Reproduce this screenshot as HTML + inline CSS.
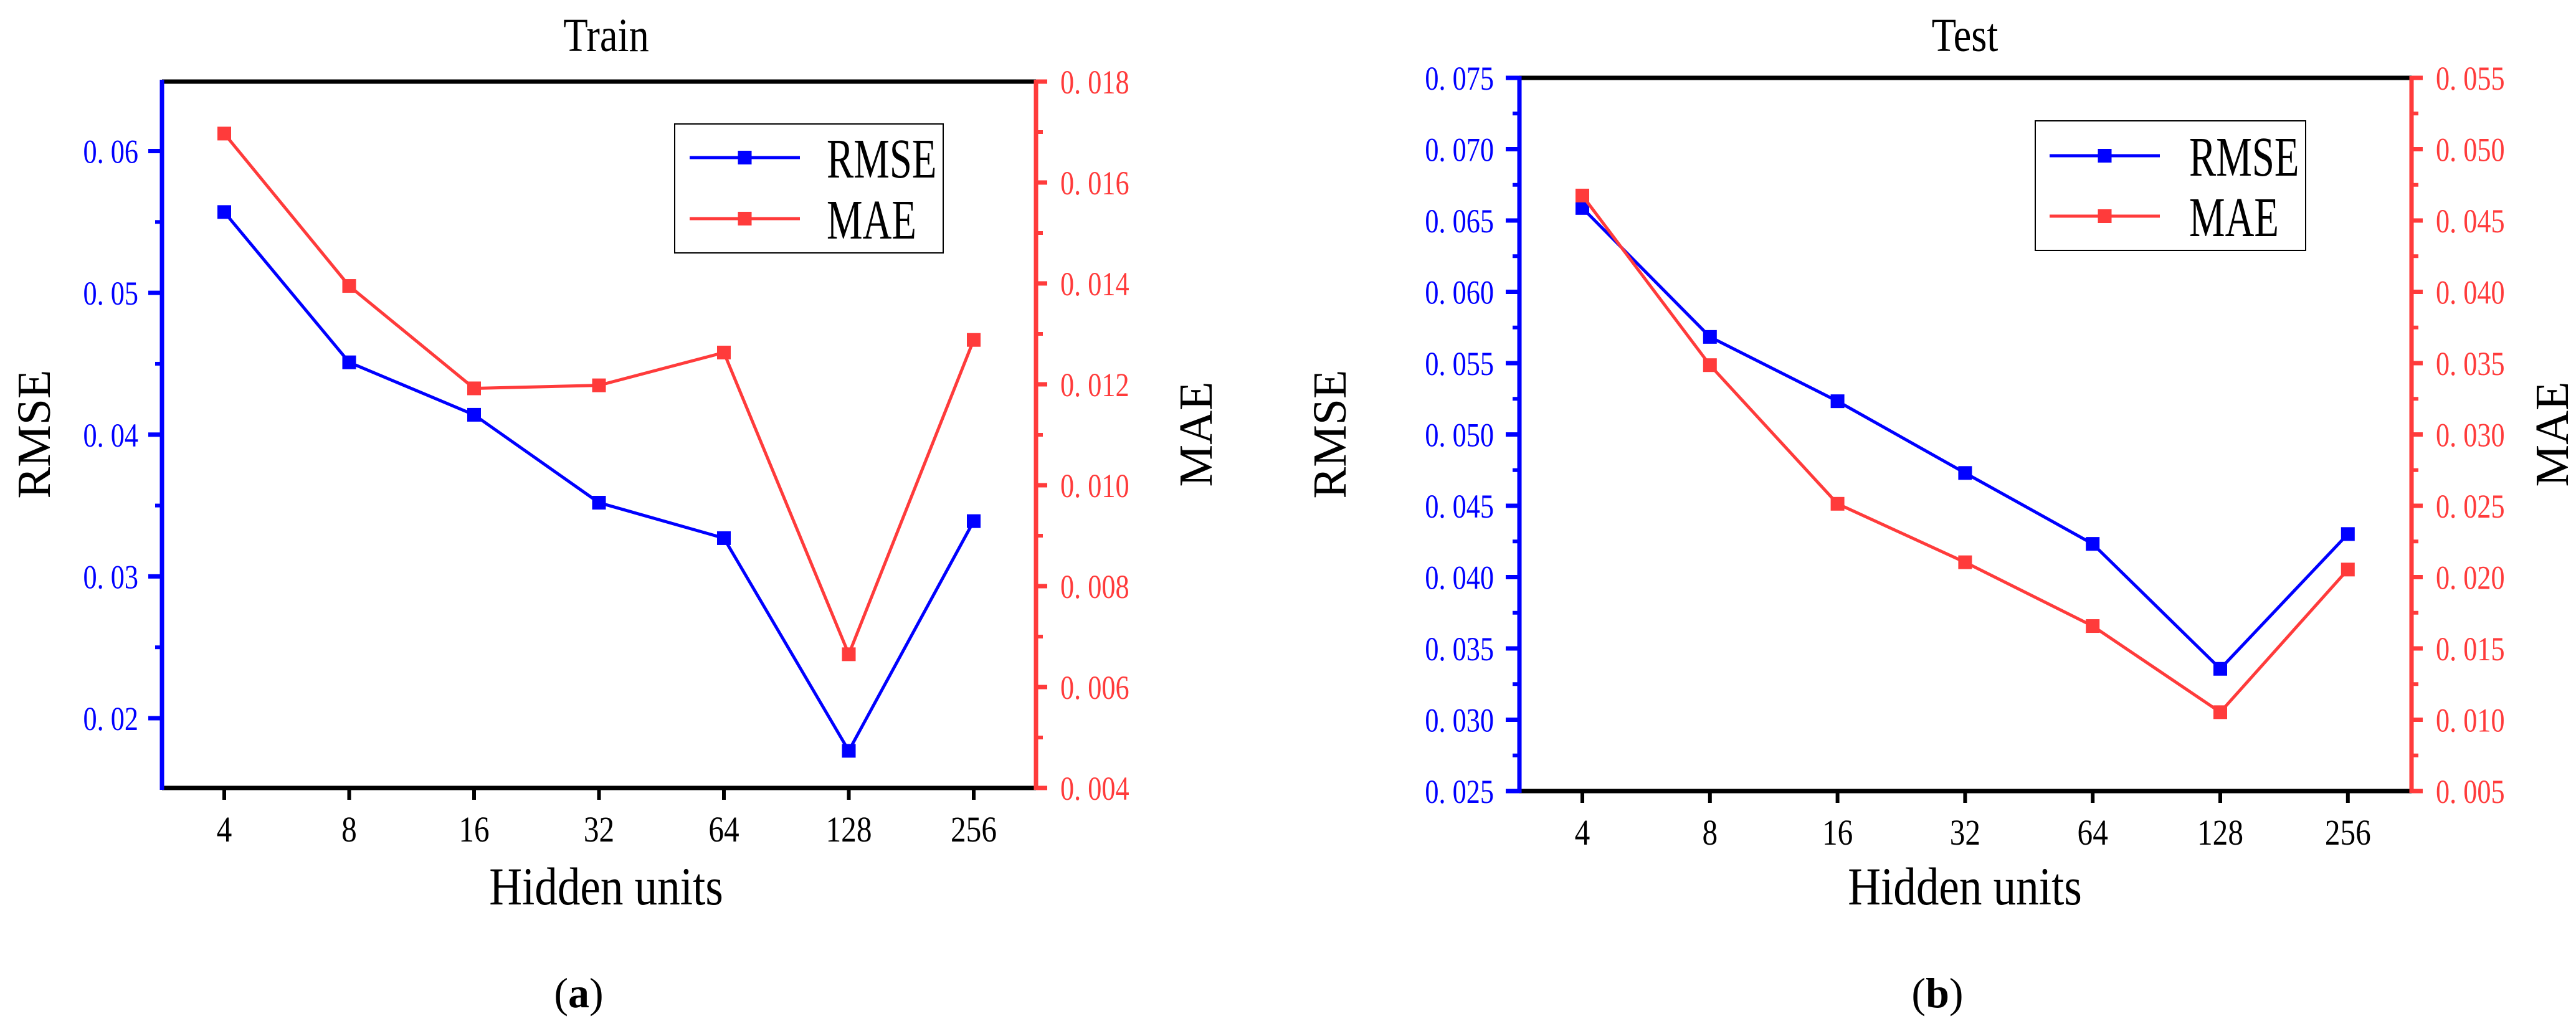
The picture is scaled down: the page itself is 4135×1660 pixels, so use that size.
<!DOCTYPE html>
<html><head><meta charset="utf-8"><style>
html,body{margin:0;padding:0;background:#fff;}
svg, svg text{font-family:"Liberation Serif","Noto Serif CJK SC",serif;}
</style></head><body>
<svg id="fig" width="4135" height="1655" viewBox="0 0 4135 1655" xmlns="http://www.w3.org/2000/svg" font-family="Liberation Serif, Noto Serif CJK SC, serif"></svg>
<script>
const categories = ["4","8","16","32","64","128","256"];
const trainRmse = [0.0557,0.0451,0.0414,0.0352,0.0327,0.0177,0.0339];
const trainMae = [0.01697,0.01395,0.01192,0.01198,0.01263,0.00665,0.01288];
const testRmse = [0.06588,0.05684,0.05233,0.04730,0.04233,0.03357,0.04302];
const testMae = [0.04675,0.03486,0.02514,0.02104,0.01657,0.01053,0.02053];
const trainLeftTicks = [0.02,0.03,0.04,0.05,0.06];
const trainRightTicks = [0.004,0.006,0.008,0.010,0.012,0.014,0.016,0.018];
const testLeftTicks = [0.025,0.030,0.035,0.040,0.045,0.050,0.055,0.060,0.065,0.070,0.075];
const testRightTicks = [0.005,0.010,0.015,0.020,0.025,0.030,0.035,0.040,0.045,0.050,0.055];

const NS="http://www.w3.org/2000/svg";
const FF="Liberation Serif, Noto Serif CJK SC, serif";
const svg=document.getElementById('fig');
function mk(tag,attrs,parent){const e=document.createElementNS(NS,tag);for(const k in attrs)e.setAttribute(k,attrs[k]);(parent||svg).appendChild(e);return e;}
function txt(s,x,y,size,fill,anchor,sx,parent){const t=mk('text',{x:0,y:0,'font-size':size,'font-family':FF,fill:fill,'text-anchor':anchor,transform:`translate(${x},${y}) scale(${sx},1)`},parent);t.textContent=s;return t;}
function fmt(v,d){return v.toFixed(d).replace('.', '. ');}

function chart(cfg){
  const g=mk('g',{});
  
  
  const {L,R,T,B,x0,dx}=cfg;
  const xs=i=>x0+i*dx;
  const yl=v=>B-(v-cfg.lmin)/(cfg.lmax-cfg.lmin)*(B-T);
  const yr=v=>B-(v-cfg.rmin)/(cfg.rmax-cfg.rmin)*(B-T);
  const top=mk('line',{x1:L,y1:T,x2:R,y2:T,stroke:'#000','stroke-width':7},g);
  
  const bot=mk('line',{x1:L,y1:B,x2:R,y2:B,stroke:'#000','stroke-width':7},g);
  
  categories.forEach((c,i)=>{
    const tk=mk('line',{x1:xs(i),y1:B,x2:xs(i),y2:B+19,stroke:'#000','stroke-width':6},g);
    
    const t=txt(c,xs(i),B+86,58,'#000','middle',0.85,g);
    
  });
  const la=mk('line',{x1:L,y1:T-3,x2:L,y2:B+3,stroke:'#0000ff','stroke-width':7},g);
  
  const lminor=(cfg.lTicks[1]-cfg.lTicks[0])/2;
  const minorVals=[];
  {let v=cfg.lTicks[0]-lminor;while(v>cfg.lmin){minorVals.push(v);v-=2*lminor;}}
  for(let i=0;i<cfg.lTicks.length-1;i++)minorVals.push(cfg.lTicks[i]+lminor);
  {let v=cfg.lTicks[cfg.lTicks.length-1]+lminor;while(v<cfg.lmax-1e-9){minorVals.push(v);v+=2*lminor;}}
  minorVals.forEach(v=>{const y=yl(v);const m=mk('line',{x1:L,y1:y,x2:L-11,y2:y,stroke:'#0000ff','stroke-width':6},g);});
  cfg.lTicks.forEach(v=>{
    const y=yl(v);
    const tk=mk('line',{x1:L,y1:y,x2:L-22,y2:y,stroke:'#0000ff','stroke-width':7},g);
    
    const t=txt(fmt(v,cfg.ld),cfg.lLabelX,y+19,54,'#0000ff','end',0.82,g);
    
  });
  const ra=mk('line',{x1:R,y1:T-3,x2:R,y2:B+3,stroke:'#ff3b3b','stroke-width':7},g);
  
  const rstep=cfg.rTicks[1]-cfg.rTicks[0];
  cfg.rTicks.forEach((v,i)=>{
    const y=yr(v);
    const tk=mk('line',{x1:R,y1:y,x2:R+18,y2:y,stroke:'#ff3b3b','stroke-width':7},g);
    
    const t=txt(fmt(v,3),cfg.rLabelX,y+19,54,'#ff3b3b','start',0.82,g);
    
    if(i<cfg.rTicks.length-1){const ym=yr(v+rstep/2);const m=mk('line',{x1:R,y1:ym,x2:R+11,y2:ym,stroke:'#ff3b3b','stroke-width':6},g);}
  });
  function series(vals,yf,color,name){
    const pts=vals.map((v,i)=>xs(i)+','+yf(v)).join(' ');
    const pl=mk('polyline',{points:pts,fill:'none',stroke:color,'stroke-width':5},g);
    
    vals.forEach((v,i)=>{
      const r=mk('rect',{x:xs(i)-11,y:yf(v)-11,width:22,height:22,fill:color},g);
      
    });
  }
  series(cfg.rmse,yl,'#0000ff','rmse');
  series(cfg.mae,yr,'#ff3b3b','mae');
  const lg=mk('g',{},g);
  const lb=cfg.leg;
  mk('rect',{x:lb.x,y:lb.y,width:lb.w,height:lb.h,fill:'#fff',stroke:'#000','stroke-width':2},lg);
  [['RMSE','#0000ff',lb.y1],['MAE','#ff3b3b',lb.y2]].forEach(([n,c,y])=>{
    const e=mk('g',{},lg);
    mk('line',{x1:lb.lx1,y1:y,x2:lb.lx2,y2:y,stroke:c,'stroke-width':5},e);
    mk('rect',{x:(lb.lx1+lb.lx2)/2-11,y:y-11,width:22,height:22,fill:c},e);
    txt(n,lb.tx,y+32,90,'#000','start',0.72,e);
  });
  const ti=txt(cfg.title,cfg.cx,82,76,'#000','middle',0.85,g);
  const xt=txt('Hidden  units',cfg.cx,1452,86,'#000','middle',0.85,g);
  const ly=mk('text',{x:0,y:0,'font-size':76,'font-family':FF,fill:'#000','text-anchor':'middle',transform:`translate(${cfg.lTitleX},697) rotate(-90)`},g);ly.textContent='RMSE';
  const ry=mk('text',{x:0,y:0,'font-size':76,'font-family':FF,fill:'#000','text-anchor':'middle',transform:`translate(${cfg.rTitleX},697) rotate(-90)`},g);ry.textContent='MAE';
  const cap=mk('text',{x:cfg.capX,y:1617,'font-size':68,'font-family':FF,fill:'#000','text-anchor':'middle'},g);
  cap.innerHTML='(<tspan font-weight="bold">'+cfg.cap+'</tspan>)';
  
}

chart({name:'train-chart',L:260,R:1663,T:131,B:1265,x0:360,dx:200.5,lmin:0.01508,lmax:0.0649,lTicks:trainLeftTicks,ld:2,rmin:0.004,rmax:0.018,rTicks:trainRightTicks,
  rmse:trainRmse,mae:trainMae,lLabelX:222,rLabelX:1702,cx:973,title:'Train',lTitleX:80,rTitleX:1945,capX:929,cap:'a',
  leg:{x:1083,y:199,w:431,h:207,y1:253,y2:351,lx1:1107,lx2:1284,tx:1327}});
chart({name:'test-chart',L:2439,R:3871,T:125,B:1270,x0:2540,dx:204.8,lmin:0.025,lmax:0.075,lTicks:testLeftTicks,ld:3,rmin:0.005,rmax:0.055,rTicks:testRightTicks,
  rmse:testRmse,mae:testMae,lLabelX:2398,rLabelX:3910,cx:3154,title:'Test',lTitleX:2160,rTitleX:4122,capX:3110,cap:'b',
  leg:{x:3267,y:194,w:434,h:208,y1:250,y2:347,lx1:3290,lx2:3467,tx:3514}});
</script>
</body></html>
